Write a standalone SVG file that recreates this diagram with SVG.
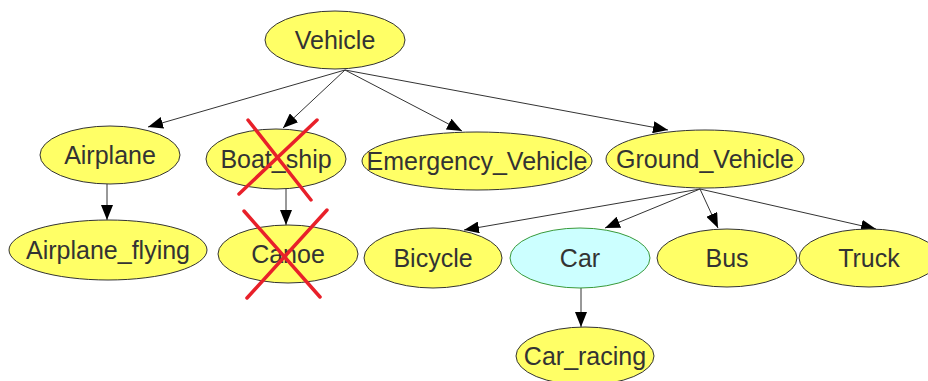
<svg xmlns="http://www.w3.org/2000/svg" width="928" height="381" viewBox="0 0 928 381">
<style>
.n ellipse{fill:#ffff66;stroke:#333;stroke-width:1}
.n text{font-family:"Liberation Sans",Arial,sans-serif;font-size:25px;fill:#333;text-anchor:middle;dominant-baseline:central}
#car ellipse{fill:#ccffff;stroke:#3a9a3a}
.e line{stroke:#333;stroke-width:1;marker-end:url(#ah)}
.x line{stroke:#e8202a;stroke-width:3.5;stroke-linecap:round}
</style>
<defs>
<marker id="ah" viewBox="0 0 15 12" refX="15" refY="6" markerWidth="15" markerHeight="12" markerUnits="userSpaceOnUse" orient="auto">
<path d="M0,0 L15,6 L0,12 Z" fill="#000"/>
</marker>
</defs>
<rect width="928" height="381" fill="#fff"/>
<g id="connectors" class="e">
<line x1="345" y1="70" x2="148" y2="127"/>
<line x1="345" y1="70" x2="283" y2="128"/>
<line x1="345" y1="70" x2="462" y2="131"/>
<line x1="345" y1="70" x2="668" y2="130"/>
<line x1="107" y1="184" x2="107" y2="220"/>
<line x1="286" y1="189" x2="286" y2="225"/>
<line x1="700" y1="189" x2="464" y2="230"/>
<line x1="700" y1="189" x2="605" y2="228"/>
<line x1="700" y1="189" x2="718" y2="228"/>
<line x1="700" y1="189" x2="876" y2="229"/>
<line x1="581" y1="288" x2="581" y2="327"/>
</g>
<g id="vehicle" class="n"><ellipse cx="335" cy="40" rx="70" ry="29"/><text x="335" y="40">Vehicle</text></g>
<g id="airplane" class="n"><ellipse cx="110" cy="155" rx="70" ry="29"/><text x="110" y="155">Airplane</text></g>
<g id="airplane_flying" class="n"><ellipse cx="108" cy="250" rx="99" ry="30"/><text x="108" y="250">Airplane_flying</text></g>
<g id="boat_ship" class="n"><ellipse cx="276" cy="159" rx="70" ry="30"/><text x="276" y="159">Boat_ship</text></g>
<g id="canoe" class="n"><ellipse cx="288" cy="254" rx="70" ry="29"/><text x="288" y="254">Canoe</text></g>
<g id="emergency_vehicle" class="n"><ellipse cx="477" cy="161" rx="115" ry="29"/><text x="477" y="161">Emergency_Vehicle</text></g>
<g id="ground_vehicle" class="n"><ellipse cx="705" cy="159" rx="99" ry="29"/><text x="705" y="159">Ground_Vehicle</text></g>
<g id="bicycle" class="n"><ellipse cx="433" cy="258" rx="69" ry="30"/><text x="433" y="258">Bicycle</text></g>
<g id="car" class="n"><ellipse cx="580" cy="258" rx="70" ry="30"/><text x="580" y="258">Car</text></g>
<g id="bus" class="n"><ellipse cx="727" cy="258" rx="70" ry="29"/><text x="727" y="258">Bus</text></g>
<g id="truck" class="n"><ellipse cx="869" cy="258" rx="70" ry="29"/><text x="869" y="258">Truck</text></g>
<g id="car_racing" class="n"><ellipse cx="585" cy="356" rx="69" ry="29"/><text x="585" y="356">Car_racing</text></g>
<g id="crosses" class="x">
<line x1="248" y1="120" x2="311" y2="200"/>
<line x1="317" y1="120" x2="239" y2="194"/>
<line x1="244" y1="211" x2="320" y2="297"/>
<line x1="327" y1="210" x2="247" y2="298"/>
</g>
</svg>
